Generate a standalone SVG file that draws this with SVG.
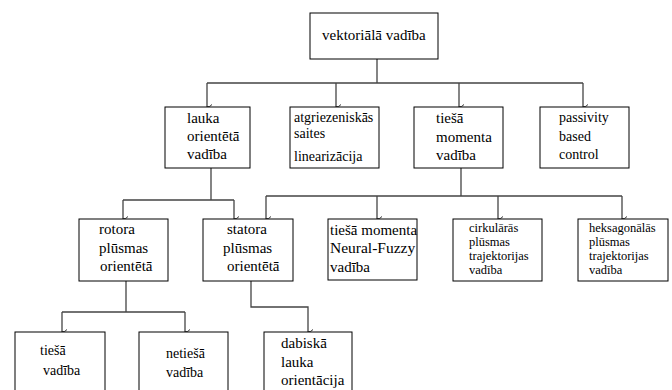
<svg xmlns="http://www.w3.org/2000/svg" width="672" height="390" viewBox="0 0 672 390" font-family="'Liberation Serif', 'Times New Roman', Times, serif">
<style>
.box{fill:#fff;stroke:#000;stroke-width:1}
text{font-family:'Liberation Serif','Times New Roman',Times,serif;font-size:15px;fill:#000}
text.m{font-size:14px}
text.s{font-size:12.5px}
text.b{font-size:15.5px}
.c{fill:none;stroke:#444;stroke-width:1.3}
</style>
<defs>
<marker id="ah" markerUnits="userSpaceOnUse" markerWidth="8" markerHeight="8" refX="4" refY="7" orient="auto-start-reverse" viewBox="0 0 8 8">
<path d="M1.5,2 Q4,4 4,7 Q4,4 6.5,2" fill="none" stroke="#333" stroke-width="1"/>
</marker>
</defs>
<rect width="672" height="390" fill="#fff"/>
<g id="connectors">
<path class="c" d="M377,59 V83 M207,83 H583"/>
<path class="c" d="M207,83 V107" marker-end="url(#ah)"/>
<path class="c" d="M336,83 V107" marker-end="url(#ah)"/>
<path class="c" d="M459,83 V107" marker-end="url(#ah)"/>
<path class="c" d="M583,83 V107" marker-end="url(#ah)"/>
<path class="c" d="M211,168 V200 M123,200 H234"/>
<path class="c" d="M123,200 V219" marker-end="url(#ah)"/>
<path class="c" d="M234,200 V219" marker-end="url(#ah)"/>
<path class="c" d="M461,168 V196 M266,196 H622"/>
<path class="c" d="M266,196 V219" marker-end="url(#ah)"/>
<path class="c" d="M377,196 V219" marker-end="url(#ah)"/>
<path class="c" d="M498,196 V219" marker-end="url(#ah)"/>
<path class="c" d="M622,196 V219" marker-end="url(#ah)"/>
<path class="c" d="M126,281 V312 M62,312 H185"/>
<path class="c" d="M62,312 V332" marker-end="url(#ah)"/>
<path class="c" d="M185,312 V332" marker-end="url(#ah)"/>
<path class="c" d="M251,281 V307 H308 V332" marker-end="url(#ah)"/>
</g>
<g id="n_vektoriala">
<rect class="box" x="310" y="13" width="128" height="46"/>
<text x="322" y="40">vektoriālā vadība</text>
</g>
<g id="n_lauka">
<rect class="box" x="165" y="107" width="85" height="61"/>
<text x="187" y="123">lauka</text>
<text x="187" y="141">orientētā</text>
<text x="187" y="159">vadība</text>
</g>
<g id="n_atgriez">
<rect class="box" x="290" y="107" width="89" height="61"/>
<text class="m" x="294" y="122">atgriezeniskās</text>
<text class="m" x="294" y="138">saites</text>
<text class="m" x="294" y="161">linearizācija</text>
</g>
<g id="n_tiesa_momenta">
<rect class="box" x="414" y="107" width="89" height="61"/>
<text x="436" y="123">tiešā</text>
<text x="436" y="142">momenta</text>
<text x="436" y="160">vadība</text>
</g>
<g id="n_passivity">
<rect class="box" x="540" y="107" width="89" height="61"/>
<text class="m" x="559" y="122">passivity</text>
<text class="m" x="559" y="141">based</text>
<text class="m" x="559" y="159">control</text>
</g>
<g id="n_rotora">
<rect class="box" x="79" y="219" width="89" height="62"/>
<text x="99" y="234">rotora</text>
<text x="99" y="253">plūsmas</text>
<text x="100" y="271">orientētā</text>
</g>
<g id="n_statora">
<rect class="box" x="203" y="219" width="90" height="62"/>
<text x="227" y="234">statora</text>
<text x="223" y="253">plūsmas</text>
<text x="227" y="271">orientētā</text>
</g>
<g id="n_neural">
<rect class="box" x="328" y="219" width="89" height="61"/>
<text x="330" y="235">tiešā momenta</text>
<text class="b" x="330" y="253">Neural-Fuzzy</text>
<text x="330" y="272">vadība</text>
</g>
<g id="n_cirk">
<rect class="box" x="453" y="219" width="89" height="62"/>
<text class="s" x="469" y="232">cirkulārās</text>
<text class="s" x="469" y="246">plūsmas</text>
<text class="s" x="469" y="260">trajektorijas</text>
<text class="s" x="469" y="274">vadība</text>
</g>
<g id="n_heks">
<rect class="box" x="578" y="219" width="90" height="62"/>
<text class="s" x="589" y="232">heksagonālās</text>
<text class="s" x="589" y="246">plūsmas</text>
<text class="s" x="589" y="260">trajektorijas</text>
<text class="s" x="589" y="274">vadība</text>
</g>
<g id="n_tiesa">
<rect class="box" x="15" y="332" width="90" height="70"/>
<text class="m" x="40" y="355">tiešā</text>
<text class="m" x="43" y="375">vadība</text>
</g>
<g id="n_netiesa">
<rect class="box" x="139" y="332" width="89" height="70"/>
<text class="m" x="166" y="358">netiešā</text>
<text class="m" x="166" y="377">vadība</text>
</g>
<g id="n_dabiska">
<rect class="box" x="264" y="332" width="88" height="70"/>
<text x="281" y="348">dabiskā</text>
<text x="281" y="367">lauka</text>
<text x="281" y="385">orientācija</text>
</g>
</svg>
